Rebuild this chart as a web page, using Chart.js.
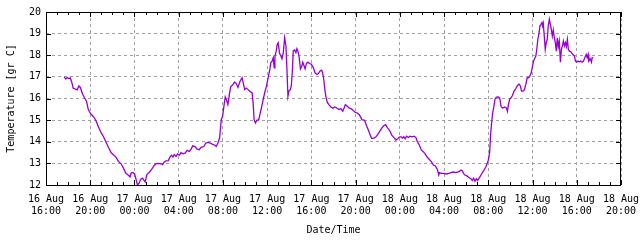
<!DOCTYPE html>
<html lang="en">
  <head>
    <meta charset="UTF-8" />
    <title>Temperature 16-18 Aug</title>
    <script src="https://cdn.jsdelivr.net/npm/chart.js@4.4.0/dist/chart.umd.min.js"></script>
    <style>
      body { margin: 0; background: #fff; }
    </style>
  </head>
  <body>
    <canvas id="myChart" width="640" height="240"></canvas>

    <script>
      // x values are hours since 16 Aug 16:00
      const hours = [
        1.64, 1.79, 1.9, 2.06, 2.2, 2.36, 2.45, 2.67, 2.82, 2.97, 3.12, 3.27, 3.45, 3.67, 3.82, 4.0,
        4.27, 4.48, 4.73, 4.97, 5.21, 5.39, 5.64, 5.88, 6.09, 6.33, 6.55, 6.79, 7.0, 7.21, 7.39, 7.6,
        7.7, 7.85, 8.0, 8.15, 8.27, 8.42, 8.55, 8.73, 8.88, 8.97, 9.12, 9.33, 9.58, 9.76, 9.94, 10.18,
        10.42, 10.55, 10.67, 10.85, 11.06, 11.24, 11.36, 11.48, 11.6, 11.76, 11.9, 12.06, 12.21, 12.36,
        12.58, 12.76, 12.97, 13.12, 13.27, 13.48, 13.67, 13.85, 14.03, 14.27, 14.45, 14.64, 14.88, 15.06,
        15.24, 15.39, 15.55, 15.7, 15.85, 15.97, 16.09, 16.21, 16.33, 16.45, 16.58, 16.7, 16.88, 17.06,
        17.21, 17.36, 17.55, 17.73, 17.85, 17.97, 18.12, 18.27, 18.45, 18.64, 18.73, 18.82, 18.94, 19.06,
        19.24, 19.36, 19.48, 19.64, 19.79, 19.94, 20.09, 20.24, 20.33, 20.45, 20.55, 20.64, 20.7, 20.82,
        20.91, 21.0, 21.12, 21.22, 21.34, 21.46, 21.58, 21.7, 21.79, 21.88, 21.97, 22.09, 22.18, 22.27,
        22.36, 22.48, 22.6, 22.69, 22.78, 22.9, 23.01, 23.13, 23.22, 23.34, 23.43, 23.55, 23.67, 23.85,
        24.0, 24.18, 24.33, 24.51, 24.63, 24.78, 24.93, 25.01, 25.1, 25.22, 25.31, 25.43, 25.58, 25.76,
        25.94, 26.12, 26.3, 26.48, 26.66, 26.84, 26.96, 27.07, 27.25, 27.43, 27.61, 27.79, 27.97, 28.15,
        28.33, 28.45, 28.57, 28.81, 28.99, 29.16, 29.34, 29.46, 29.64, 29.82, 30.0, 30.18, 30.36, 30.54,
        30.72, 30.84, 31.09, 31.27, 31.45, 31.64, 31.82, 32.0, 32.12, 32.24, 32.36, 32.48, 32.61, 32.79,
        32.91, 33.09, 33.27, 33.45, 33.58, 33.76, 33.94, 34.12, 34.3, 34.48, 34.67, 34.85, 35.03, 35.21,
        35.39, 35.52, 35.58, 35.76, 36.0, 36.24, 36.42, 36.61, 36.82, 37.03, 37.21, 37.39, 37.52, 37.64,
        37.76, 37.88, 38.06, 38.24, 38.42, 38.55, 38.67, 38.79, 38.91, 39.03, 39.21, 39.39, 39.58, 39.76,
        39.88, 40.0, 40.12, 40.21, 40.3, 40.39, 40.48, 40.61, 40.73, 40.91, 41.03, 41.15, 41.27, 41.45,
        41.64, 41.73, 41.82, 41.94, 42.06, 42.18, 42.33, 42.48, 42.64, 42.79, 42.91, 43.0, 43.15, 43.27,
        43.39, 43.52, 43.64, 43.76, 43.88, 44.0, 44.09, 44.18, 44.3, 44.39, 44.48, 44.58, 44.67, 44.76,
        44.85, 44.91, 44.97, 45.06, 45.15, 45.24, 45.33, 45.42, 45.52, 45.61, 45.7, 45.79, 45.88, 45.97,
        46.06, 46.15, 46.24, 46.33, 46.42, 46.52, 46.61, 46.7, 46.79, 46.88, 46.97, 47.06, 47.15, 47.24,
        47.33, 47.48, 47.64, 47.79, 47.88, 48.0, 48.12, 48.24, 48.36, 48.48, 48.61, 48.73, 48.85, 48.94,
        49.03, 49.09, 49.21, 49.33, 49.39, 49.48
      ];

      const temps = [
        17.0, 16.9, 16.97, 16.92, 16.95, 16.7, 16.48, 16.43, 16.4, 16.58, 16.5, 16.25, 16.06, 15.86, 15.5, 15.32,
        15.17, 15.02, 14.71, 14.43, 14.22, 14.02, 13.75, 13.5, 13.4, 13.29, 13.09, 12.98, 12.78, 12.55, 12.48, 12.37,
        12.55, 12.58, 12.52, 12.25, 12.0, 12.08, 12.26, 12.32, 12.2, 12.14, 12.48, 12.58, 12.74, 12.89, 12.98, 13.0,
        12.98, 12.94, 13.05, 13.12, 13.13, 13.32, 13.38, 13.29, 13.41, 13.32, 13.44, 13.38, 13.5, 13.44,
        13.47, 13.6, 13.55, 13.66, 13.81, 13.78, 13.66, 13.63, 13.74, 13.78, 13.94, 13.97, 13.94, 13.88,
        13.85, 13.78, 13.94, 14.17, 15.02, 15.18, 15.64, 16.07, 15.92, 15.72, 16.18, 16.54, 16.63, 16.76,
        16.69, 16.51, 16.8, 16.96, 16.69, 16.41, 16.48, 16.41, 16.32, 16.26, 15.8, 15.02, 14.87, 14.99,
        15.02, 15.3, 15.56, 15.95, 16.29, 16.57, 16.96, 17.34, 17.65, 17.73, 17.89, 17.42, 17.93, 18.2,
        18.5, 18.58, 18.09, 17.99, 17.84, 18.12, 18.81, 18.43, 17.34, 16.1, 16.34, 16.41, 16.57, 17.19,
        18.2, 18.24, 18.12, 18.3, 18.2, 17.89, 17.37, 17.5, 17.68, 17.5, 17.37, 17.62, 17.68, 17.62,
        17.58, 17.42, 17.19, 17.11, 17.15, 17.27, 17.31, 17.19, 16.96, 16.41, 16.1, 15.83, 15.72, 15.61,
        15.55, 15.61, 15.56, 15.49, 15.53, 15.41, 15.56, 15.72, 15.64, 15.55, 15.52, 15.45, 15.36, 15.33,
        15.25, 15.14, 15.02, 14.99, 14.74, 14.53, 14.28, 14.15, 14.17, 14.22, 14.33, 14.48, 14.63, 14.74,
        14.79, 14.68, 14.51, 14.31, 14.2, 14.08, 14.15, 14.23, 14.23, 14.17, 14.23, 14.14, 14.26, 14.2,
        14.26, 14.23, 14.26, 14.2, 14.0, 13.85, 13.62, 13.54, 13.43, 13.28, 13.18, 13.08, 12.92, 12.88,
        12.72, 12.46, 12.57, 12.54, 12.54, 12.51, 12.54, 12.57, 12.6, 12.57, 12.6, 12.63, 12.69, 12.66,
        12.54, 12.46, 12.42, 12.35, 12.29, 12.2, 12.31, 12.17, 12.29, 12.2, 12.35, 12.51, 12.66, 12.82,
        12.97, 13.15, 13.5, 14.37, 14.87, 15.33, 15.56, 15.98, 16.06, 16.07, 16.03, 15.64, 15.55, 15.61,
        15.56, 15.41, 15.72, 15.98, 16.03, 16.14, 16.34, 16.45, 16.6, 16.66, 16.57, 16.34, 16.34, 16.41,
        16.65, 16.96, 16.96, 17.03, 17.19, 17.5, 17.73, 17.84, 17.96, 18.3, 18.74, 19.0, 19.36, 19.43,
        19.51, 19.36, 19.48, 18.89, 18.27, 18.58, 18.74, 19.36, 19.67, 19.43, 19.2, 18.89, 19.17, 18.81,
        18.58, 18.19, 18.81, 18.4, 18.66, 17.68, 18.27, 18.43, 18.66, 18.43, 18.58, 18.4, 18.74, 18.27,
        18.19, 18.15, 18.03, 17.96, 17.73, 17.68, 17.73, 17.7, 17.73, 17.68, 17.73, 17.89, 18.04, 17.89,
        18.04, 17.73, 17.84, 17.68, 17.89, 17.89
      ];

      // x tick labels, one every 4 hours
      const tickDays = ["16 Aug", "16 Aug", "17 Aug", "17 Aug", "17 Aug", "17 Aug", "17 Aug",
                        "17 Aug", "18 Aug", "18 Aug", "18 Aug", "18 Aug", "18 Aug", "18 Aug"];
      const tickTimes = ["16:00", "20:00", "00:00", "04:00", "08:00", "12:00", "16:00",
                         "20:00", "00:00", "04:00", "08:00", "12:00", "16:00", "20:00"];

      const FONT = { family: "'DejaVu Sans Mono', monospace", size: 10, lineHeight: 1.25 };

      // gnuplot style frame with inward tick marks (hourly minor ticks on x)
      const framePlugin = {
        id: "frame",
        afterDatasetsDraw(chart) {
          const { ctx, chartArea: a, scales } = chart;
          const xs = scales.x, ys = scales.y;
          ctx.save();
          ctx.strokeStyle = "#000";
          ctx.lineWidth = 1;
          ctx.beginPath();
          for (let h = xs.min; h <= xs.max; h++) {
            const px = Math.round(xs.getPixelForValue(h)) + 0.5;
            const len = h % 4 === 0 ? 5 : 3;
            ctx.moveTo(px, a.bottom); ctx.lineTo(px, a.bottom - len);
            ctx.moveTo(px, a.top); ctx.lineTo(px, a.top + len);
          }
          for (let v = ys.min; v <= ys.max; v++) {
            const py = Math.round(ys.getPixelForValue(v)) + 0.5;
            ctx.moveTo(a.left, py); ctx.lineTo(a.left + 5, py);
            ctx.moveTo(a.right, py); ctx.lineTo(a.right - 5, py);
          }
          ctx.stroke();
          ctx.strokeRect(a.left + 0.5, a.top + 0.5, a.right - a.left - 1, a.bottom - a.top);
          ctx.restore();
        },
      };

      const ctx = document.getElementById("myChart").getContext("2d");
      const myChart = new Chart(ctx, {
        type: "line",
        data: {
          datasets: [
            {
              label: "Temperature",
              data: hours.map((h, i) => ({ x: h, y: temps[i] })),
              borderColor: "#9400d3",
              borderWidth: 1.3,
              pointRadius: 0,
              tension: 0,
              fill: false,
            },
          ],
        },
        plugins: [framePlugin],
        options: {
          responsive: false,
          animation: false,
          layout: { padding: { left: 0, right: 19, top: 12, bottom: 0 } },
          plugins: { legend: { display: false }, tooltip: { enabled: false } },
          scales: {
            x: {
              type: "linear",
              min: 0,
              max: 52,
              afterFit: (s) => { s.height = 55; s.paddingLeft = 0; s.paddingRight = 0; },
              grid: { color: "#a0a0a0", drawTicks: false },
              border: { display: false, dash: [3, 3] },
              ticks: {
                stepSize: 4,
                autoSkip: false,
                maxRotation: 0,
                padding: 8,
                color: "#000",
                font: FONT,
                callback: (v, i) => [tickDays[i], tickTimes[i]],
              },
              title: { display: true, text: "Date/Time", color: "#000", font: FONT, padding: { top: 0, bottom: 3 } },
            },
            y: {
              min: 12,
              max: 20,
              afterFit: (s) => { s.width = 46; s.paddingTop = 0; s.paddingBottom = 0; },
              grid: { color: "#a0a0a0", drawTicks: false },
              border: { display: false, dash: [3, 3] },
              ticks: { stepSize: 1, padding: 5, color: "#000", font: FONT },
              title: { display: true, text: "Temperature [gr C]", color: "#000", font: FONT, padding: { top: 5, bottom: 0 } },
            },
          },
        },
      });
    </script>
  </body>
</html>
